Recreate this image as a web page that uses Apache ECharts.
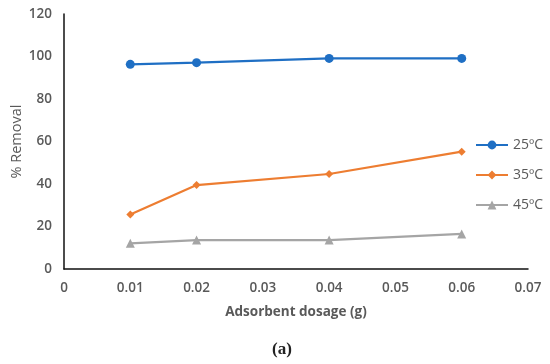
<!DOCTYPE html>
<html><head><meta charset="utf-8">
<script src="https://cdn.jsdelivr.net/npm/echarts@6/dist/echarts.min.js"></script>
<style>html,body{margin:0;padding:0;background:#fff}#c{width:550px;height:364px}</style>
</head><body><div id="c"></div>
<script>
const dosage = [0.01, 0.02, 0.04, 0.06];
const seriesNames = ['25ºC', '35ºC', '45ºC'];
const removal25 = [96.3, 97.1, 99.1, 99.1];
const removal35 = [25.7, 39.5, 44.7, 55.2];
const removal45 = [12.1, 13.6, 13.6, 16.5];
const xTicks = [0, 0.01, 0.02, 0.03, 0.04, 0.05, 0.06, 0.07];
const yTicks = [0, 20, 40, 60, 80, 100, 120];

const font = '"Open Sans", "Liberation Sans", sans-serif';
const colors = ['#1F6FC4', '#ED7D31', '#A5A5A5'];
const symbols = ['circle', 'diamond', 'triangle'];
const sizes = [9, 8, 9];
const values = [removal25, removal35, removal45];

const chart = echarts.init(document.getElementById('c'));
chart.setOption({
  animation: false,
  color: colors,
  title: {
    text: '(a)', left: 277, top: 336, textAlign: 'center',
    textStyle: { fontFamily: '"Liberation Serif", "DejaVu Serif", serif', fontWeight: 'bold', fontSize: 17, color: '#222' }
  },
  grid: { left: 64, top: 14, right: 22, bottom: 95, containLabel: false, outerBoundsMode: 'none' },
  legend: {
    orient: 'vertical', left: 470, top: 133, itemWidth: 32, itemHeight: 11, itemGap: 16,
    data: seriesNames,
    textStyle: { fontFamily: font, fontSize: 14, color: '#595959', fontWeight: 500 }
  },
  xAxis: {
    type: 'value', min: 0, max: 0.07, interval: 0.01,
    name: 'Adsorbent dosage (g)', nameLocation: 'middle', nameGap: 36, nameMoveOverlap: false,
    nameTextStyle: { fontFamily: font, fontSize: 13.5, fontWeight: 'bold', color: '#595959' },
    axisLine: { show: true, lineStyle: { color: '#111', width: 1.5 } },
    axisTick: { show: false }, splitLine: { show: false },
    axisLabel: { fontFamily: font, fontSize: 13.5, fontWeight: 600, color: '#595959', margin: 12,
      formatter: v => { const t = xTicks.find(x => Math.abs(x - v) < 1e-9); return t === undefined ? '' : String(t); } }
  },
  yAxis: {
    type: 'value', min: 0, max: 120, interval: 20,
    name: '% Removal', nameLocation: 'middle', nameGap: 40, nameRotate: 90, nameMoveOverlap: false,
    nameTextStyle: { fontFamily: font, fontSize: 14.5, color: '#595959' },
    axisLine: { show: true, lineStyle: { color: '#111', width: 1.5 } },
    axisTick: { show: false }, splitLine: { show: false },
    axisLabel: { fontFamily: font, fontSize: 13.5, fontWeight: 600, color: '#595959', margin: 12,
      formatter: v => yTicks.includes(v) ? String(v) : '' }
  },
  series: seriesNames.map((n, i) => ({
    name: n, type: 'line', symbol: symbols[i], symbolSize: sizes[i], showSymbol: true,
    lineStyle: { width: 2.2, color: colors[i] }, itemStyle: { color: colors[i] },
    data: dosage.map((d, j) => [d, values[i][j]])
  }))
});
</script></body></html>
